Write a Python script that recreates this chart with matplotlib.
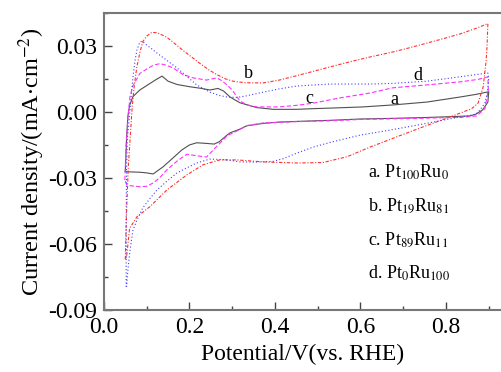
import matplotlib
matplotlib.use("Agg")
from matplotlib import pyplot as plt
from matplotlib.ticker import MultipleLocator
import numpy as np

plt.rcParams["font.family"] = ["Liberation Serif", "DejaVu Serif"]
plt.rcParams["mathtext.fontset"] = "stix"

# a. Pt100Ru0 (black solid): forward sweep then reverse sweep
a_x = [0.050, 0.053, 0.056, 0.060, 0.068, 0.084, 0.100, 0.120, 0.136, 0.150, 0.171, 0.200, 0.225, 0.248,
       0.267, 0.280, 0.295, 0.318, 0.357, 0.396, 0.450, 0.489, 0.550, 0.606, 0.676, 0.755, 0.833, 0.870, 0.900,
       0.898, 0.886, 0.870, 0.856, 0.800, 0.755, 0.676, 0.599, 0.529, 0.450, 0.410, 0.372, 0.334, 0.318, 0.295,
       0.288, 0.270, 0.258, 0.240, 0.217, 0.200, 0.182, 0.161, 0.138, 0.115, 0.100, 0.084, 0.053, 0.050]
a_y = [-0.0270, -0.0120, -0.0020, 0.0030, 0.0070, 0.0100, 0.0120, 0.0145, 0.0163, 0.0140, 0.0125, 0.0115, 0.0108, 0.0100,
       0.0107, 0.0095, 0.0068, 0.0042, 0.0020, 0.0012, 0.0012, 0.0015, 0.0019, 0.0023, 0.0032, 0.0045, 0.0068, 0.0080, 0.0092,
       0.0045, 0.0010, -0.0010, -0.0018, -0.0022, -0.0025, -0.0029, -0.0032, -0.0038, -0.0043, -0.0046, -0.0052, -0.0063, -0.0078, -0.0095,
       -0.0105, -0.0135, -0.0146, -0.0143, -0.0140, -0.0150, -0.0173, -0.0210, -0.0250, -0.0282, -0.0277, -0.0274, -0.0272, -0.0270]

# b. Pt19Ru81 (red dash-dot)
b_x = [0.050, 0.053, 0.057, 0.062, 0.066, 0.071, 0.077, 0.084, 0.091, 0.100, 0.112, 0.125, 0.147, 0.165, 0.185,
       0.205, 0.225, 0.245, 0.264, 0.285, 0.302, 0.330, 0.372, 0.410, 0.451, 0.490, 0.529, 0.575, 0.622, 0.676,
       0.715, 0.755, 0.795, 0.833, 0.870, 0.898,
       0.896, 0.894, 0.887, 0.875, 0.860, 0.840, 0.802, 0.746, 0.685, 0.622, 0.568, 0.512, 0.451, 0.372, 0.311,
       0.271, 0.232, 0.194, 0.147, 0.108, 0.077, 0.060, 0.053, 0.050]
b_y = [-0.0670, -0.0450, -0.0250, -0.0100, 0.0020, 0.0120, 0.0205, 0.0270, 0.0320, 0.0345, 0.0362, 0.0360, 0.0340, 0.0312, 0.0280,
       0.0250, 0.0220, 0.0192, 0.0170, 0.0150, 0.0140, 0.0133, 0.0132, 0.0145, 0.0165, 0.0185, 0.0205, 0.0228, 0.0250, 0.0273,
       0.0292, 0.0313, 0.0334, 0.0355, 0.0380, 0.0402,
       0.0300, 0.0236, 0.0114, 0.0040, 0.0015, 0.0000, -0.0028, -0.0068, -0.0113, -0.0160, -0.0204, -0.0230, -0.0232, -0.0227, -0.0218,
       -0.0218, -0.0240, -0.0286, -0.0355, -0.0430, -0.0477, -0.0530, -0.0660, -0.0670]

# c. Pt89Ru11 (magenta dashed)
c_x = [0.049, 0.052, 0.056, 0.061, 0.068, 0.077, 0.084, 0.100, 0.115, 0.131, 0.147, 0.162, 0.185, 0.209, 0.240,
       0.264, 0.275, 0.288, 0.300, 0.318, 0.335, 0.357, 0.410, 0.450, 0.489, 0.552, 0.622, 0.676, 0.755, 0.833,
       0.875, 0.898,
       0.899, 0.891, 0.872, 0.840, 0.755, 0.676, 0.599, 0.529, 0.450, 0.372, 0.334, 0.318, 0.300, 0.288, 0.275,
       0.260, 0.240, 0.220, 0.194, 0.170, 0.147, 0.130, 0.115, 0.100, 0.084, 0.060, 0.053, 0.049]
c_y = [-0.0310, -0.0150, -0.0030, 0.0070, 0.0120, 0.0150, 0.0175, 0.0195, 0.0212, 0.0220, 0.0212, 0.0200, 0.0170, 0.0155, 0.0145,
       0.0155, 0.0143, 0.0123, 0.0100, 0.0050, 0.0032, 0.0023, 0.0023, 0.0030, 0.0040, 0.0064, 0.0086, 0.0110, 0.0123, 0.0137,
       0.0148, 0.0160,
       0.0100, 0.0015, -0.0018, -0.0024, -0.0028, -0.0031, -0.0034, -0.0040, -0.0044, -0.0050, -0.0062, -0.0080, -0.0097, -0.0108, -0.0135,
       -0.0164, -0.0205, -0.0200, -0.0192, -0.0225, -0.0264, -0.0300, -0.0323, -0.0338, -0.0340, -0.0335, -0.0330, -0.0310]

# d. Pt0Ru100 (blue dotted)
d_x = [0.052, 0.052, 0.053, 0.055, 0.061, 0.068, 0.073, 0.077, 0.084, 0.090, 0.096, 0.110, 0.124, 0.147, 0.171,
       0.195, 0.217, 0.248, 0.270, 0.288, 0.311, 0.330, 0.372, 0.410, 0.451, 0.529, 0.622, 0.676, 0.755, 0.833,
       0.870, 0.898,
       0.900, 0.897, 0.891, 0.880, 0.870, 0.850, 0.826, 0.780, 0.732, 0.690, 0.646, 0.600, 0.568, 0.530, 0.489,
       0.450, 0.420, 0.395, 0.350, 0.318, 0.288, 0.248, 0.217, 0.195, 0.171, 0.147, 0.124, 0.105, 0.091, 0.080,
       0.068, 0.061, 0.056, 0.053]
d_y = [-0.0795, -0.0500, -0.0250, -0.0120, 0.0010, 0.0160, 0.0236, 0.0280, 0.0318, 0.0322, 0.0310, 0.0290, 0.0268, 0.0235, 0.0200,
       0.0160, 0.0123, 0.0090, 0.0075, 0.0068, 0.0066, 0.0072, 0.0090, 0.0105, 0.0118, 0.0127, 0.0127, 0.0130, 0.0140, 0.0160,
       0.0170, 0.0177,
       0.0150, 0.0090, 0.0040, 0.0010, -0.0010, -0.0018, -0.0025, -0.0042, -0.0060, -0.0075, -0.0090, -0.0105, -0.0120, -0.0138, -0.0160,
       -0.0188, -0.0212, -0.0225, -0.0228, -0.0227, -0.0218, -0.0214, -0.0232, -0.0253, -0.0277, -0.0315, -0.0355, -0.0400, -0.0436, -0.0480,
       -0.0536, -0.0630, -0.0720, -0.0795]

curve_letters = ["a", "b", "c", "d"]
letter_x = [0.680, 0.339, 0.480, 0.734]
letter_y = [0.0055, 0.0173, 0.0060, 0.0164]
legend_labels = ["a. Pt$_{100}$Ru$_{0}$", "b. Pt$_{19}$Ru$_{81}$", "c. Pt$_{89}$Ru$_{11}$", "d. Pt$_{0}$Ru$_{100}$"]

fig = plt.figure(figsize=(5.02, 3.72), dpi=100)
ax = fig.add_axes([0.207, 0.167, 0.793, 0.798])

ax.plot(a_x, a_y, color="#505050", lw=0.8, linestyle="-")
ax.plot(b_x, b_y, color="#ff3030", lw=0.8, linestyle=(0, (3, 1.5, 1, 1.5)))
ax.plot(c_x, c_y, color="#ff30ff", lw=0.8, linestyle=(0, (4, 2)))
ax.plot(d_x, d_y, color="#4040ff", lw=0.8, linestyle=(0, (1, 2)))

for t, x, y in zip(curve_letters, letter_x, letter_y):
    ax.text(x, y, t, fontsize=13, ha="center", va="center")

for i, lab in enumerate(legend_labels):
    ax.text(0.617, -0.0273 - i * 0.0154, lab, fontsize=13, ha="left", va="center")

ax.set_xlim(0, 0.931)
ax.set_ylim(-0.09, 0.045)
ax.xaxis.set_major_locator(MultipleLocator(0.2))
ax.xaxis.set_minor_locator(MultipleLocator(0.1))
ax.yaxis.set_major_locator(MultipleLocator(0.03))
ax.yaxis.set_minor_locator(MultipleLocator(0.015))
ax.set_xticks([0.0, 0.2, 0.4, 0.6, 0.8])
ax.set_xticklabels(["0.0", "0.2", "0.4", "0.6", "0.8"])
ax.set_yticks([-0.09, -0.06, -0.03, 0.0, 0.03])
ax.set_yticklabels(["-0.09", "-0.06", "-0.03", "0.00", "0.03"])
ax.tick_params(which="both", direction="in", labelsize=17, top=False, right=False, color="#444444")
ax.tick_params(which="major", length=6, width=1)
ax.tick_params(which="minor", length=3, width=1)
ax.tick_params(axis="x", pad=5)
ax.tick_params(axis="y", pad=5)

for s in ["left", "top", "bottom"]:
    ax.spines[s].set_color("#777777")
    ax.spines[s].set_linewidth(1.5)
ax.spines["right"].set_visible(False)

ax.set_xlabel("Potential/V(vs. RHE)", fontsize=17, labelpad=4)
ax.set_ylabel("Current density/(mA$\\cdot$cm$^{-2}$)", fontsize=17.5, labelpad=1)

fig.savefig("out.png", dpi=100)
